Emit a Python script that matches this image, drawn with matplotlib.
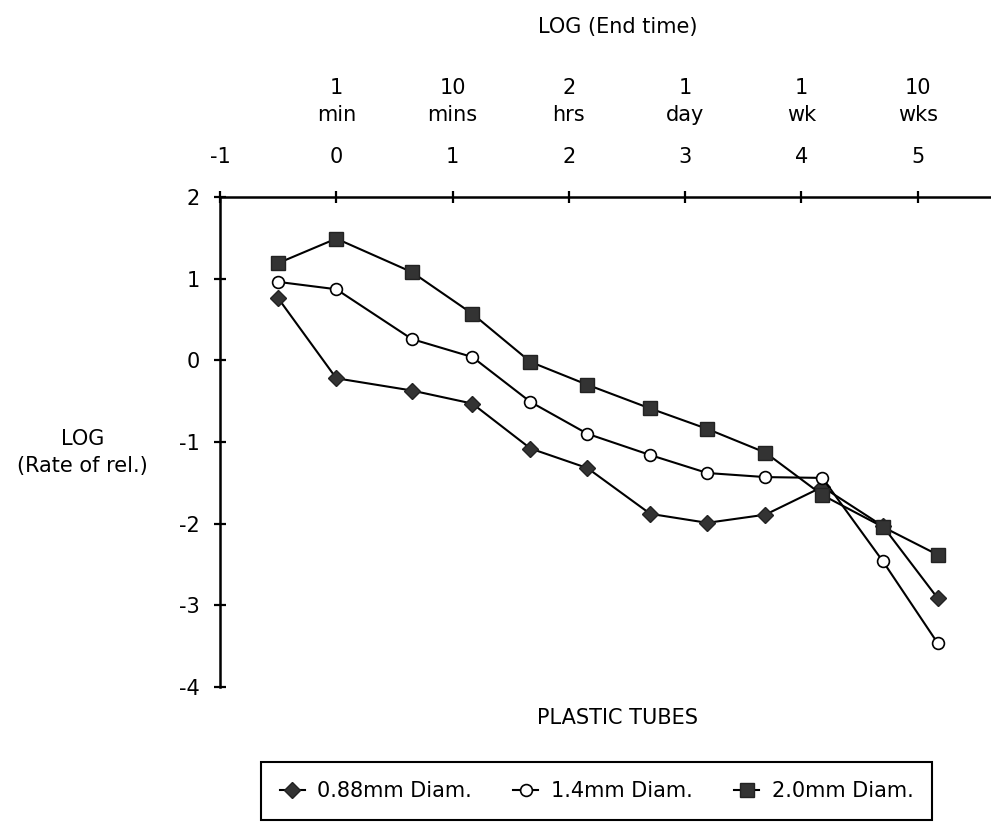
import matplotlib
matplotlib.use("Agg")
from matplotlib import pyplot as plt
from matplotlib import transforms

# log10 of end time (minutes) for each sampling point
log_end_time = [-0.5, 0.0, 0.65, 1.17, 1.67, 2.16, 2.70, 3.19, 3.69, 4.18, 4.70, 5.17]

# log10 of rate of release for each tube diameter
rate_088 = [0.76, -0.22, -0.37, -0.53, -1.08, -1.32, -1.88, -1.99, -1.89, -1.55, -2.03, -2.91]
rate_14 = [0.96, 0.87, 0.26, 0.04, -0.51, -0.90, -1.16, -1.38, -1.43, -1.44, -2.46, -3.46]
rate_20 = [1.19, 1.49, 1.08, 0.57, -0.02, -0.30, -0.59, -0.84, -1.13, -1.65, -2.04, -2.38]

x_ticks = [-1, 0, 1, 2, 3, 4, 5]
y_ticks = [2, 1, 0, -1, -2, -3, -4]
time_ticks = [0, 1, 2, 3, 4, 5]
time_labels = ["1\nmin", "10\nmins", "2\nhrs", "1\nday", "1\nwk", "10\nwks"]

plt.rcParams['font.family'] = ['DejaVu Sans']
fs = 15

fig = plt.figure(figsize=(9.91, 8.30), dpi=100)
ax = fig.add_axes([0.222, 0.1723, 0.778, 0.5904])

ax.plot(log_end_time, rate_088, color='black', lw=1.5, marker='D', ms=8,
        mfc='#333333', mec='#222222', label='0.88mm Diam.', zorder=3)
ax.plot(log_end_time, rate_14, color='black', lw=1.5, marker='o', ms=8.5,
        mfc='white', mec='black', mew=1.2, label='1.4mm Diam.', zorder=4)
ax.plot(log_end_time, rate_20, color='black', lw=1.5, marker='s', ms=9.5,
        mfc='#333333', mec='#222222', label='2.0mm Diam.', zorder=5)

ax.set_xlim(-1, 5.63)
ax.set_ylim(-4, 2)

# axes cross at the top-left corner: x axis on top, y axis on the left
for side in ['right', 'bottom']:
    ax.spines[side].set_visible(False)
for side in ['top', 'left']:
    ax.spines[side].set_linewidth(1.8)

ax.xaxis.tick_top()
ax.set_xticks(x_ticks)
ax.set_xticklabels([str(t) for t in x_ticks])
ax.set_yticks(y_ticks)
ax.set_yticklabels([str(t) for t in y_ticks])
ax.tick_params(axis='x', direction='inout', length=9, width=1.6, labelsize=fs, pad=17)
ax.tick_params(axis='y', direction='inout', length=9, width=1.6, labelsize=fs, pad=10)

# real-time labels above the log ticks
trans = transforms.blended_transform_factory(ax.transData, ax.transAxes)
for t, lab in zip(time_ticks, time_labels):
    ax.text(t, 1.194, lab, transform=trans, ha='center', va='center',
            fontsize=fs, linespacing=1.45)

fig.text(0.623, 0.967, "LOG (End time)", ha='center', va='center', fontsize=fs)
fig.text(0.083, 0.455, "LOG\n(Rate of rel.)", ha='center', va='center',
         fontsize=fs, linespacing=1.4)
fig.text(0.623, 0.135, "PLASTIC TUBES", ha='center', va='center', fontsize=fs)

leg = fig.legend(loc='center', bbox_to_anchor=(0.602, 0.047), ncol=3,
                 fontsize=fs, frameon=True, fancybox=False, edgecolor='black',
                 framealpha=1, handlelength=1.2, handletextpad=0.6,
                 columnspacing=2.0, borderpad=0.9, borderaxespad=0)
leg.get_frame().set_linewidth(1.5)

fig.savefig("out.png", dpi=100)
